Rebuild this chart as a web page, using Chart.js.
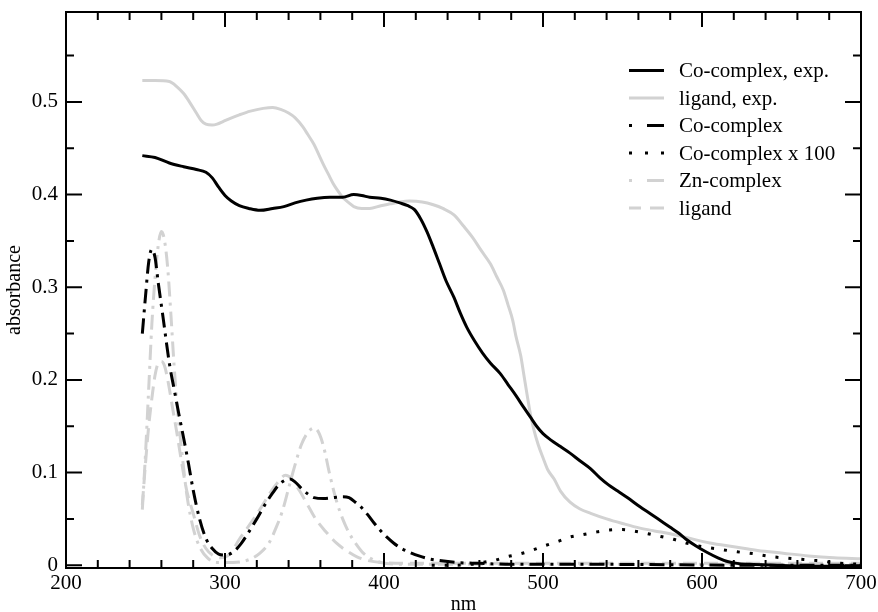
<!DOCTYPE html>
<html>
<head>
<meta charset="utf-8">
<script src="https://cdn.jsdelivr.net/npm/chart.js@4.4.1/dist/chart.umd.min.js"></script>
<style>
    body { margin: 0; background: #fff; }
    canvas { display: block; }
</style>
</head>
<body>
<canvas id="spectra" width="878" height="612"></canvas>
<script>
// axis ticks
const xTicks = [200, 300, 400, 500, 600, 700];
const yTicks = [0, 0.1, 0.2, 0.3, 0.4, 0.5];
const xMinorTicks = [220, 240, 260, 280, 320, 340, 360, 380, 420, 440, 460, 480, 520, 540, 560, 580, 620, 640, 660, 680];
const yMinorTicks = [0.05, 0.15, 0.25, 0.35, 0.45, 0.55];

// Co-complex, exp.
const coExpNm = [248, 256, 265, 274, 282, 288, 292, 296, 300, 304, 309, 315, 322, 330, 337, 344, 351, 358, 366, 374, 381, 386, 391, 398, 404, 410, 415, 419, 423, 427, 431, 435, 439, 444, 448, 452, 457, 462, 467, 473, 478, 483, 488, 492, 496, 500, 505, 511, 517, 523, 530, 536, 541, 547, 553, 561, 568, 574, 580, 585, 590, 596, 603, 610, 616, 622, 630, 645, 665, 700];
const coExpAbs = [0.442, 0.440, 0.434, 0.430, 0.427, 0.424, 0.418, 0.408, 0.399, 0.393, 0.388, 0.385, 0.383, 0.385, 0.387, 0.391, 0.394, 0.396, 0.397, 0.397, 0.400, 0.399, 0.397, 0.396, 0.394, 0.391, 0.388, 0.384, 0.374, 0.360, 0.343, 0.325, 0.307, 0.289, 0.272, 0.257, 0.242, 0.229, 0.218, 0.207, 0.195, 0.183, 0.170, 0.160, 0.150, 0.142, 0.135, 0.128, 0.121, 0.113, 0.104, 0.094, 0.087, 0.080, 0.073, 0.063, 0.055, 0.048, 0.041, 0.035, 0.028, 0.021, 0.014, 0.008, 0.004, 0.002, 0.001, 0, -0.001, -0.001];

// ligand, exp.
const ligExpNm = [248, 256, 265, 270, 274, 278, 282, 285, 288, 292, 295, 299, 303, 309, 316, 324, 330, 335, 340, 344, 349, 352, 356, 359, 362, 365, 368, 371, 374, 378, 381, 386, 391, 398, 404, 410, 416, 424, 431, 437, 444, 450, 456, 461, 467, 471, 475, 478, 481, 483, 486, 488, 490, 492, 494, 497, 500, 503, 507, 511, 517, 523, 530, 540, 550, 561, 570, 580, 590, 605, 620, 635, 651, 667, 683, 700];
const ligExpAbs = [0.523, 0.523, 0.522, 0.516, 0.509, 0.499, 0.488, 0.480, 0.476, 0.475, 0.476, 0.479, 0.482, 0.486, 0.490, 0.493, 0.494, 0.492, 0.488, 0.483, 0.473, 0.465, 0.454, 0.443, 0.432, 0.422, 0.412, 0.404, 0.397, 0.391, 0.387, 0.385, 0.385, 0.388, 0.390, 0.392, 0.393, 0.392, 0.389, 0.385, 0.378, 0.366, 0.353, 0.340, 0.325, 0.311, 0.297, 0.281, 0.264, 0.247, 0.226, 0.205, 0.184, 0.164, 0.148, 0.130, 0.116, 0.103, 0.093, 0.080, 0.068, 0.061, 0.056, 0.050, 0.045, 0.040, 0.037, 0.034, 0.030, 0.024, 0.020, 0.016, 0.013, 0.010, 0.008, 0.007];

// Co-complex (calc.)
const coNm = [248, 250, 252, 254, 256, 258, 261, 265, 268, 271, 274, 277, 280, 284, 288, 292, 296, 300, 305, 310, 315, 320, 325, 330, 334, 338, 341, 344, 348, 352, 356, 362, 368, 374, 378, 382, 386, 390, 394, 398, 402, 406, 411, 416, 422, 428, 435, 445, 460, 480, 530, 580, 620, 700];
const coAbs = [0.250, 0.290, 0.327, 0.341, 0.332, 0.305, 0.268, 0.218, 0.190, 0.163, 0.137, 0.110, 0.081, 0.050, 0.029, 0.018, 0.012, 0.011, 0.014, 0.023, 0.036, 0.050, 0.065, 0.078, 0.087, 0.092, 0.093, 0.090, 0.083, 0.077, 0.073, 0.072, 0.073, 0.074, 0.073, 0.068, 0.062, 0.054, 0.045, 0.037, 0.030, 0.024, 0.018, 0.014, 0.010, 0.007, 0.005, 0.003, 0.002, 0.001, 0.001, 0.0005, 0, 0];

// Co-complex x 100
const co100Nm = [430, 445, 455, 462, 469, 477, 485, 493, 501, 510, 516, 525, 534, 542, 550, 557, 566, 574, 582, 590, 600, 608, 622, 632, 645, 658, 672, 687, 700];
const co100Abs = [0, 0, 0.001, 0.003, 0.005, 0.009, 0.012, 0.016, 0.021, 0.026, 0.030, 0.033, 0.036, 0.038, 0.0385, 0.037, 0.034, 0.031, 0.028, 0.024, 0.020, 0.018, 0.0145, 0.0125, 0.009, 0.007, 0.005, 0.002, 0.001];

// Zn-complex
const znNm = [248, 250, 252, 254, 256, 258, 260, 262, 264, 266, 268, 270, 273, 276, 280, 284, 289, 295, 305, 315, 322, 328, 332, 336, 340, 344, 348, 352, 356, 359, 362, 366, 370, 374, 378, 382, 387, 392, 398, 410, 450, 700];
const znAbs = [0.060, 0.120, 0.190, 0.260, 0.310, 0.345, 0.360, 0.350, 0.320, 0.270, 0.215, 0.170, 0.120, 0.076, 0.040, 0.020, 0.008, 0.003, 0.003, 0.006, 0.013, 0.025, 0.040, 0.058, 0.083, 0.108, 0.130, 0.143, 0.148, 0.143, 0.128, 0.097, 0.070, 0.050, 0.035, 0.024, 0.013, 0.007, 0.003, 0.001, 0.001, 0.001];

// ligand (calc.)
const ligNm = [248, 250, 252, 254, 256, 258, 260, 262, 264, 267, 270, 273, 276, 280, 284, 288, 292, 297, 303, 309, 314, 318, 323, 328, 333, 338, 342, 347, 352, 357, 363, 370, 377, 383, 390, 398, 420, 500, 600, 700];
const ligAbs = [0.065, 0.110, 0.150, 0.180, 0.205, 0.218, 0.220, 0.215, 0.200, 0.170, 0.140, 0.108, 0.080, 0.056, 0.032, 0.018, 0.011, 0.008, 0.012, 0.028, 0.040, 0.050, 0.063, 0.077, 0.089, 0.097, 0.093, 0.080, 0.065, 0.050, 0.037, 0.024, 0.015, 0.009, 0.005, 0.003, 0.002, 0.002, 0.002, 0.002];

const GRAY = "#d2d2d2";
const FONT = "'Liberation Serif', 'Times New Roman', serif";

function toPoints(xs, ys) {
    return xs.map((x, i) => ({x: x, y: ys[i]}));
}

const series = [
    {label: "Co-complex, exp.", nm: coExpNm, abs: coExpAbs, color: "#000", dash: [], legend: [[0, 35]]},
    {label: "ligand, exp.", nm: ligExpNm, abs: ligExpAbs, color: GRAY, dash: [], legend: [[0, 35]]},
    {label: "Co-complex", nm: coNm, abs: coAbs, color: "#000", dash: [15, 6, 3, 6], legend: [[0, 3], [18, 35]]},
    {label: "Co-complex x 100", nm: co100Nm, abs: co100Abs, color: "#000", dash: [3, 10], legend: [[0, 3], [16, 19], [32, 35]]},
    {label: "Zn-complex", nm: znNm, abs: znAbs, color: GRAY, dash: [15, 6, 3, 6], legend: [[0, 3], [18, 35]]},
    {label: "ligand", nm: ligNm, abs: ligAbs, color: GRAY, dash: [14, 7], legend: [[0, 12], [21, 35]]}
];

// frame, inward ticks and legend
const framePlugin = {
    id: "frame",
    afterDatasetsDraw(chart) {
        const {ctx, chartArea: a, scales: {x, y}} = chart;
        ctx.save();
        ctx.strokeStyle = "#000";
        ctx.lineWidth = 2;
        ctx.lineCap = "butt";
        ctx.strokeRect(a.left, a.top, a.right - a.left, a.bottom - a.top);

        ctx.beginPath();
        const xt = (v, len) => {
            const px = x.getPixelForValue(v);
            ctx.moveTo(px, a.bottom); ctx.lineTo(px, a.bottom - len);
            ctx.moveTo(px, a.top); ctx.lineTo(px, a.top + len);
        };
        const yt = (v, len) => {
            const py = y.getPixelForValue(v);
            ctx.moveTo(a.left, py); ctx.lineTo(a.left + len, py);
            ctx.moveTo(a.right, py); ctx.lineTo(a.right - len, py);
        };
        xTicks.forEach(v => xt(v, 15));
        xMinorTicks.forEach(v => xt(v, 8));
        yTicks.forEach(v => yt(v, 16));
        yMinorTicks.forEach(v => yt(v, 8));
        ctx.stroke();

        // legend
        ctx.font = "21px " + FONT;
        ctx.textBaseline = "middle";
        ctx.textAlign = "left";
        series.forEach((s, i) => {
            const ly = 70.5 + i * 27.5;
            ctx.strokeStyle = s.color;
            ctx.lineWidth = 3;
            ctx.beginPath();
            s.legend.forEach(seg => {
                ctx.moveTo(629 + seg[0], ly);
                ctx.lineTo(629 + seg[1], ly);
            });
            ctx.stroke();
            ctx.fillStyle = "#000";
            ctx.fillText(s.label, 679, ly + 1);
        });
        ctx.restore();
    }
};

const spectraConfig = {
    type: "scatter",
    data: {
        datasets: series.map(s => ({
            label: s.label,
            data: toPoints(s.nm, s.abs),
            showLine: true,
            borderColor: s.color,
            backgroundColor: s.color,
            borderWidth: 3,
            borderDash: s.dash,
            borderCapStyle: "butt",
            pointRadius: 0,
            cubicInterpolationMode: "monotone"
        }))
    },
    options: {
        responsive: false,
        animation: false,
        events: [],
        layout: {padding: {left: 0, right: 17, top: 12, bottom: 0}},
        plugins: {
            legend: {display: false},
            tooltip: {enabled: false}
        },
        scales: {
            x: {
                type: "linear",
                min: 200,
                max: 700,
                grid: {display: false, drawTicks: false},
                border: {display: false},
                afterBuildTicks: s => { s.ticks = xTicks.map(v => ({value: v})); },
                afterFit: s => {
                    s.height = 44;
                    s.paddingLeft = 0;
                    s.paddingRight = 0;
                },
                ticks: {
                    color: "#000",
                    padding: 5,
                    maxRotation: 0,
                    font: {family: FONT, size: 21, lineHeight: 1},
                    callback: v => String(v)
                },
                title: {
                    display: true,
                    text: "nm",
                    color: "#000",
                    padding: {top: 0, bottom: -3},
                    font: {family: FONT, size: 20, lineHeight: 1}
                }
            },
            y: {
                type: "linear",
                min: -0.003,
                max: 0.597,
                grid: {display: false, drawTicks: false},
                border: {display: false},
                afterBuildTicks: s => { s.ticks = yTicks.map(v => ({value: v})); },
                afterFit: s => {
                    s.width = 66;
                    s.paddingTop = 0;
                    s.paddingBottom = 0;
                },
                ticks: {
                    color: "#000",
                    padding: 8,
                    font: {family: FONT, size: 21, lineHeight: 1},
                    callback: v => String(v)
                },
                title: {
                    display: true,
                    text: "absorbance",
                    color: "#000",
                    padding: {top: 5, bottom: 0},
                    font: {family: FONT, size: 20, lineHeight: 1}
                }
            }
        }
    },
    plugins: [framePlugin]
};

let spectra = new Chart(document.getElementById("spectra"), spectraConfig);
</script>
</body>
</html>
